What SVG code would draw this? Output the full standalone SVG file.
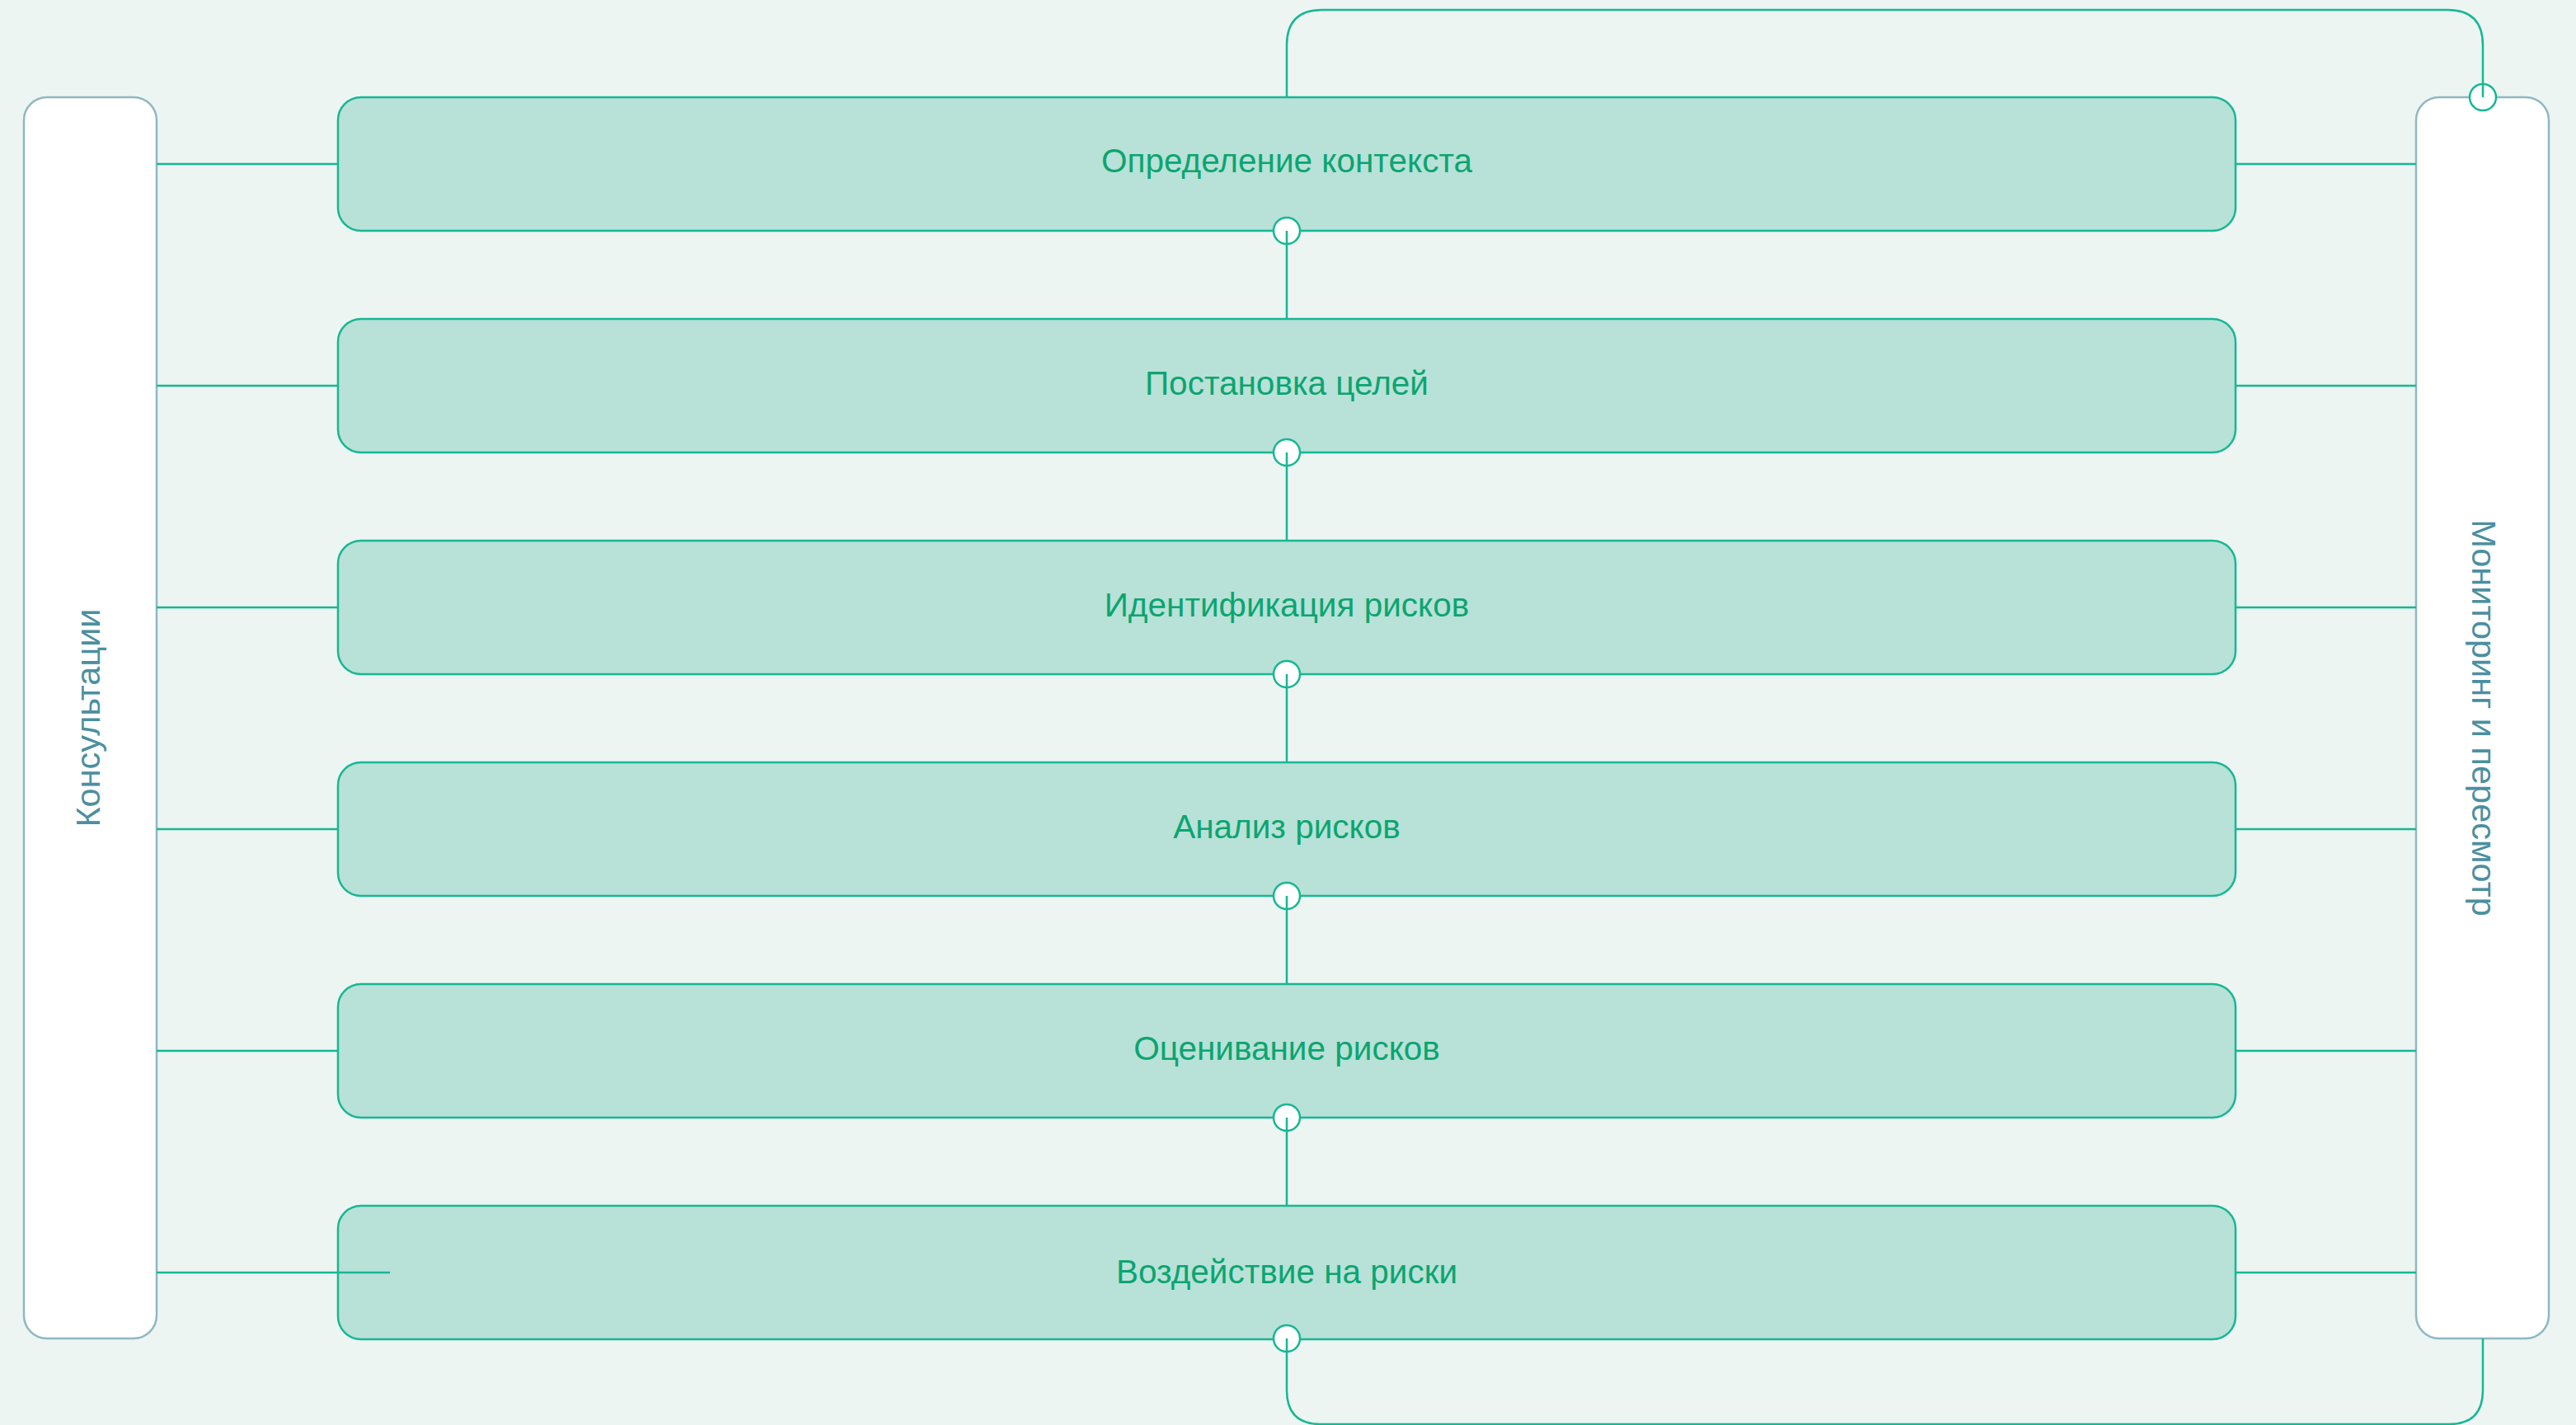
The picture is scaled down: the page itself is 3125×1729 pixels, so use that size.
<svg xmlns="http://www.w3.org/2000/svg" width="3125" height="1729" viewBox="0 0 3125 1729">
<style>
.bg{fill:#ecf5f2}
.step{fill:#b8e1d8;stroke:#17b794;stroke-width:2.5}
.side{fill:#ffffff;stroke:#8fb8c2;stroke-width:2.5}
.lbl{font-family:"Liberation Sans",Arial,sans-serif;font-size:40.5px;fill:#0ba570;text-anchor:middle}
.slbl{font-family:"Liberation Sans",Arial,sans-serif;font-size:41.5px;fill:#4b8fa0;text-anchor:middle}
.con{fill:none;stroke:#17b794;stroke-width:2.5}
.dot{fill:#ffffff;stroke:#17b794;stroke-width:2.5}
</style>
<rect class="bg" x="0" y="0" width="3125" height="1729"/>
<g id="consult">
<rect class="side" x="29" y="118" width="161" height="1506" rx="28"/>
<text class="slbl" transform="translate(121 871) rotate(-90)">Консультации</text>
</g>
<g id="monitor">
<rect class="side" x="2931" y="118" width="161" height="1506" rx="28"/>
<text class="slbl" transform="translate(2999 871) rotate(90)">Мониторинг и пересмотр</text>
</g>
<g id="step1">
<rect class="step" x="410" y="118" width="2302" height="162" rx="28"/>
<text class="lbl" x="1561" y="209">Определение контекста</text>
</g>
<g id="step2">
<rect class="step" x="410" y="387" width="2302" height="162" rx="28"/>
<text class="lbl" x="1561" y="479">Постановка целей</text>
</g>
<g id="step3">
<rect class="step" x="410" y="656" width="2302" height="162" rx="28"/>
<text class="lbl" x="1561" y="748">Идентификация рисков</text>
</g>
<g id="step4">
<rect class="step" x="410" y="925" width="2302" height="162" rx="28"/>
<text class="lbl" x="1561" y="1017">Анализ рисков</text>
</g>
<g id="step5">
<rect class="step" x="410" y="1194" width="2302" height="162" rx="28"/>
<text class="lbl" x="1561" y="1286">Оценивание рисков</text>
</g>
<g id="step6">
<rect class="step" x="410" y="1463" width="2302" height="162" rx="28"/>
<text class="lbl" x="1561" y="1557">Воздействие на риски</text>
</g>
<g id="connectors">
<path class="con" d="M190 199H410M190 468H410M190 737H410M190 1006H410M190 1275H410M190 1544H473"/>
<path class="con" d="M2712 199H2931M2712 468H2931M2712 737H2931M2712 1006H2931M2712 1275H2931M2712 1544H2931"/>
<circle class="dot" cx="1561" cy="280" r="16"/>
<circle class="dot" cx="1561" cy="549" r="16"/>
<circle class="dot" cx="1561" cy="818" r="16"/>
<circle class="dot" cx="1561" cy="1087" r="16"/>
<circle class="dot" cx="1561" cy="1356" r="16"/>
<circle class="dot" cx="1561" cy="1624" r="16"/>
<circle class="dot" cx="3012" cy="118" r="16"/>
<path class="con" d="M1561 280V387M1561 549V656M1561 818V925M1561 1087V1194M1561 1356V1463"/>
<path class="con" d="M1561 118V55Q1561 12 1604 12H2969Q3012 12 3012 55V118"/>
<path class="con" d="M1561 1624V1687Q1561 1728 1602 1728H2971Q3012 1728 3012 1687V1624"/>
</g>
</svg>
